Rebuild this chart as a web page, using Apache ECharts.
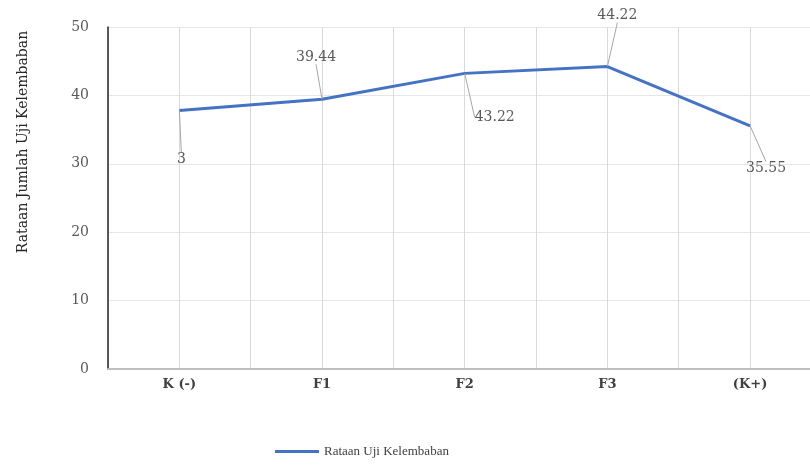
<!DOCTYPE html>
<html>
<head>
<meta charset="utf-8">
<script src="https://cdn.jsdelivr.net/npm/echarts@6/dist/echarts.min.js"></script>
<style>html,body{margin:0;padding:0;background:#fff}#c{width:810px;height:466px}</style>
</head>
<body>
<div id="c"></div>
<script>
const categories = ["K (-)", "F1", "F2", "F3", "(K+)"];
const values = [37.8, 39.44, 43.22, 44.22, 35.55];
const labelTexts = ["3", "39.44", "43.22", "44.22", "35.55"];
const seriesName = "Rataan Uji Kelembaban";
const yTitle = "Rataan Jumlah Uji Kelembaban";

const labelDx = [2, -6, 30, 10, 16];
const labelDy = [61, -30, 56, -39, 55];

const seriesData = values.map((v, i) => [i, v]);

const chart = echarts.init(document.getElementById('c'));
chart.setOption({
  animation: false,
  backgroundColor: '#fff',
  grid: { left: 108, right: 0, top: 27, bottom: 97, containLabel: false },
  legend: {
    bottom: 3, left: 270,
    itemWidth: 44, itemHeight: 3, itemGap: 8,
    icon: 'rect',
    textStyle: { fontFamily: 'Liberation Serif', fontSize: 13, color: '#404040' },
    data: [seriesName]
  },
  xAxis: {
    type: 'value', min: -0.5, max: 4.42, interval: 0.5,
    axisLine: { show: true, onZero: false, lineStyle: { color: '#bfbfbf', width: 2 } },
    axisTick: { show: false },
    splitLine: { show: true, lineStyle: { color: '#d9d9d9', width: 1 } },
    axisLabel: {
      fontFamily: 'DejaVu Serif', fontSize: 13, fontWeight: 'bold', color: '#404040', margin: 9,
      showMinLabel: true, showMaxLabel: false,
      formatter: v => (Number.isInteger(v) && categories[v] !== undefined) ? categories[v] : ''
    }
  },
  yAxis: {
    type: 'value', min: 0, max: 50, interval: 10,
    name: yTitle, nameLocation: 'middle', nameGap: 78, nameRotate: 90,
    nameTextStyle: { fontFamily: 'DejaVu Serif', fontSize: 14, color: '#262626', padding: [0, 0, 0, 112] },
    axisLine: { show: true, onZero: false, lineStyle: { color: '#262626', width: 1.5 } },
    axisTick: { show: false },
    axisLabel: { fontFamily: 'DejaVu Serif', fontSize: 14, color: '#595959', margin: 19 },
    splitLine: { show: true, lineStyle: { color: '#e6e6e6', width: 1 } }
  },
  series: [{
    name: seriesName,
    type: 'line',
    data: seriesData,
    symbol: 'circle',
    symbolSize: 0.1,
    showSymbol: true,
    lineStyle: { color: '#4472C4', width: 3 },
    itemStyle: { color: '#4472C4' },
    label: {
      show: true, position: 'top',
      fontFamily: 'DejaVu Serif', fontSize: 14, color: '#595959',
      formatter: p => labelTexts[p.dataIndex]
    },
    labelLine: { show: true, lineStyle: { color: '#a6a6a6', width: 1 } },
    labelLayout: p => ({ dx: labelDx[p.dataIndex], dy: labelDy[p.dataIndex] })
  }]
});
</script>
</body>
</html>
